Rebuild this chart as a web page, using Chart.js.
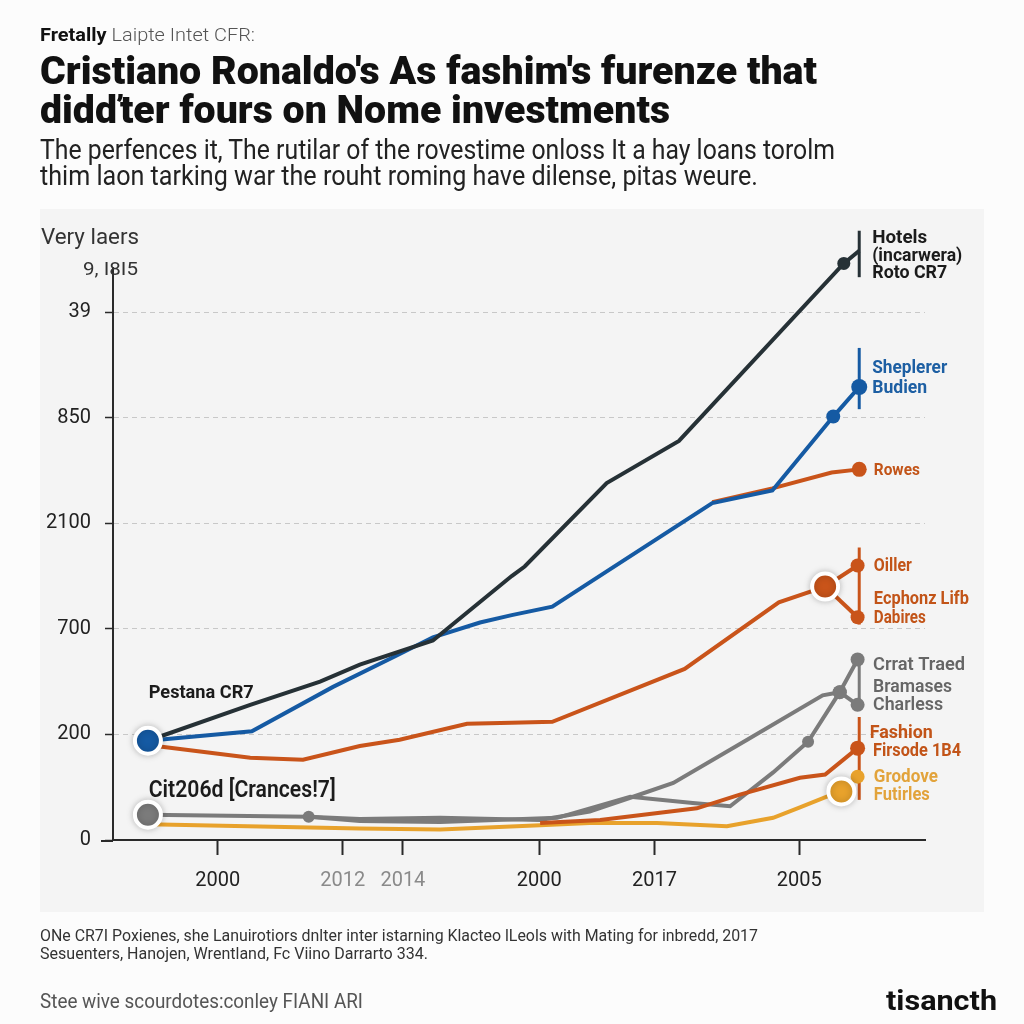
<!DOCTYPE html>
<html><head><meta charset="utf-8">
<script src="https://cdn.jsdelivr.net/npm/chart.js@4/dist/chart.umd.min.js"></script>
<style>
html,body{margin:0;padding:0;background:#fcfcfc;}
#wrap{position:relative;width:1024px;height:1024px;overflow:hidden;background:#fcfcfc;}
#panel{position:absolute;left:40px;top:209px;width:944px;height:703px;background:#f4f4f4;}
canvas{position:absolute;left:0;top:0;}
.t{position:absolute;white-space:nowrap;transform-origin:0 50%;margin:0;line-height:1.2;font-family:"Liberation Sans Narrow",Roboto,sans-serif;}
</style></head><body>
<div id="wrap">
<div id="panel"></div>
<canvas id="c" width="1024" height="1024"></canvas>
<div class="t" data-w="215" style="left:40px;top:24px;font-size:19px;color:#111;"><b>Fretally</b> <span style="color:#555;font-weight:300;">Laipte Intet CFR:</span></div>
<div class="t" data-w="777" style="left:40px;top:48px;font-size:39px;font-weight:900;color:#111;">Cristiano Ronaldo's As fashim's furenze that</div>
<div class="t" data-w="630" style="left:40px;top:87px;font-size:39px;font-weight:900;color:#111;">didďter fours on Nome investments</div>
<div class="t" data-w="795" style="left:40px;top:134px;font-size:27px;color:#222;">The perfences it, The rutilar of the rovestime onloss It a hay loans torolm</div>
<div class="t" data-w="718" style="left:40px;top:160px;font-size:27px;color:#222;">thim laon tarking war the rouht roming have dilense, pitas weure.</div>
<div class="t" data-w="98" style="left:41px;top:224px;font-size:22px;color:#333;">Very laers</div>
<div class="t" data-w="55" style="left:83px;top:258px;font-size:19px;color:#333;">9, I8I5</div>
<div class="t" data-w="718" style="left:40px;top:926px;font-size:16px;color:#333;">ONe CR7I Poxienes, she Lanuirotiors dnlter inter istarning Klacteo lLeols with Mating for inbredd, 2017</div>
<div class="t" data-w="388" style="left:40px;top:944px;font-size:16px;color:#333;">Sesuenters, Hanojen, Wrentland, Fc Viino Darrarto 334.</div>
<div class="t" data-w="323" style="left:40px;top:989px;font-size:20px;color:#555;">Stee wive scourdotes:conley FIANI ARI</div>
<div class="t" data-w="111" style="left:886px;top:985px;font-size:27px;font-weight:700;color:#111;">tisancth</div>
</div>
<script>
// ---------- data ----------
const xTickPos = [12.9, 28.3, 35.7, 52.5, 66.7, 84.5];
const xTickLabels = ['2000', '2012', '2014', '2000', '2017', '2005'];
const yTickPos = [0, 1, 2, 3, 4, 5];
const yTickLabels = ['0', '200', '700', '2100', '850', '39'];

const hotelsX = [4.3, 16.9, 25.5, 30.4, 39.4, 49.1, 50.7, 60.8, 69.7, 90.0, 91.9];
const hotelsY = [0.94, 1.28, 1.50, 1.66, 1.89, 2.50, 2.59, 3.38, 3.78, 5.46, 5.58];

const shepX = [4.3, 17.1, 27.1, 35.0, 39.4, 45.2, 49.1, 54.1, 73.8, 81.2, 88.7, 91.9];
const shepY = [0.94, 1.03, 1.45, 1.75, 1.92, 2.06, 2.13, 2.21, 3.19, 3.31, 4.01, 4.29];

const rowesX = [73.8, 81.2, 88.5, 91.9];
const rowesY = [3.20, 3.33, 3.48, 3.51];

const oillerX = [4.3, 16.9, 23.4, 30.4, 35.3, 43.6, 49.1, 54.1, 70.4, 82.0, 87.7, 91.7];
const oillerY = [0.90, 0.78, 0.76, 0.89, 0.95, 1.10, 1.11, 1.12, 1.62, 2.25, 2.40, 2.60];
const dabiresX = [87.7, 91.7];
const dabiresY = [2.40, 2.11];

const charlessX = [4.3, 24.1, 30.4, 40.3, 52.6, 58.7, 63.7, 69.0, 78.1, 87.4, 89.5, 91.7];
const charlessY = [0.24, 0.22, 0.20, 0.21, 0.19, 0.27, 0.40, 0.54, 0.95, 1.37, 1.40, 1.28];
const crratX = [24.1, 30.4, 40.3, 54.7, 63.7, 71.4, 76.0, 81.3, 85.6, 89.5, 91.7];
const crratY = [0.22, 0.18, 0.17, 0.21, 0.41, 0.35, 0.32, 0.64, 0.93, 1.40, 1.71];

const fashionX = [52.6, 60.0, 71.9, 77.2, 84.6, 87.7, 91.7];
const fashionY = [0.16, 0.19, 0.30, 0.43, 0.59, 0.62, 0.87];

const grodoveX = [4.3, 30.4, 40.3, 52.6, 58.7, 67.0, 75.6, 81.3, 84.6, 87.9, 89.7];
const grodoveY = [0.15, 0.11, 0.10, 0.14, 0.16, 0.16, 0.13, 0.21, 0.31, 0.41, 0.46];
const grodoveEndX = [91.7];
const grodoveEndY = [0.60];

const bracketX = 91.9;
const bracketBlack = [5.33, 5.77];
const bracketBlue = [4.08, 4.66];
const bracketOrange = [2.04, 2.77];
const bracketGray = [1.28, 1.70];
const bracketOrange2 = [0.38, 1.165];

// ---------- styles ----------
const C = {black:'#263136', blue:'#155aa3', orange:'#c9541a', gray:'#7b7b7b', yellow:'#e8a22c'};

function hasFont(f){
  const c = document.createElement('canvas').getContext('2d');
  const s = 'mmmmmlliWW0123456789';
  c.font = '40px monospace'; const a = c.measureText(s).width;
  c.font = '40px "' + f + '", monospace'; return c.measureText(s).width !== a;
}
const NARROW = hasFont('Liberation Sans Narrow');
const FAM = NARROW ? '"Liberation Sans Narrow", Roboto, sans-serif' : 'Roboto, sans-serif';

// fit html texts
document.querySelectorAll('.t').forEach(el => {
  const w = el.getBoundingClientRect().width;
  const target = +el.dataset.w;
  el.style.transform = 'scaleX(' + (target / w) + ')';
});

const pts = (xs, ys) => xs.map((x, i) => ({x, y: ys[i]}));
const radii = (n, m) => Array.from({length: n}, (_, i) => (m[i] !== undefined ? m[i] : 0));
const vseg = (x, r) => [{x, y: r[0]}, {x, y: r[1]}];

function line(data, color, rad, extra) {
  return Object.assign({data, borderColor: color, backgroundColor: color, pointBackgroundColor: color,
    pointBorderColor: color, pointBorderWidth: 0, borderWidth: 4, showLine: true, tension: 0,
    pointRadius: rad, clip: false, order: 5}, extra || {});
}

const bigMarkers = [
  {x: shepX[0], y: shepY[0]},
  {x: charlessX[0], y: charlessY[0]},
  {x: oillerX[10], y: oillerY[10]},
  {x: grodoveX[grodoveX.length - 1], y: grodoveY[grodoveY.length - 1]}
];

const datasets = [
  line(pts(hotelsX, hotelsY), C.black, radii(hotelsX.length, {9: 6.5, 10: 8.5}), {order: 3}),
  line(pts(shepX, shepY), C.blue, radii(shepX.length, {10: 7, 11: 8}), {order: 4}),
  line(pts(rowesX, rowesY), C.orange, radii(rowesX.length, {3: 7.5}), {order: 6}),
  line(pts(oillerX, oillerY), C.orange, radii(oillerX.length, {11: 7})),
  line(pts(dabiresX, dabiresY), C.orange, radii(dabiresX.length, {1: 7})),
  line(pts(charlessX, charlessY), C.gray, radii(charlessX.length, {1: 6, 10: 7, 11: 7})),
  line(pts(crratX, crratY), C.gray, radii(crratX.length, {8: 6, 9: 7, 10: 7})),
  line(pts(fashionX, fashionY), C.orange, radii(fashionX.length, {6: 7.5}), {order: 4}),
  line(pts(grodoveX, grodoveY), C.yellow, 0, {order: 6}),
  line(pts(grodoveEndX, grodoveEndY), C.yellow, 7, {showLine: false, order: 2}),
  line(vseg(bracketX, bracketBlack), C.black, 0, {borderWidth: 3}),
  line(vseg(bracketX, bracketBlue), C.blue, 0, {borderWidth: 3}),
  line(vseg(bracketX, bracketOrange), C.orange, 0, {borderWidth: 3}),
  line(vseg(bracketX, bracketGray), C.gray, 0, {borderWidth: 3}),
  line(vseg(bracketX, bracketOrange2), C.orange, 0, {borderWidth: 3, order: 7}),
  {data: bigMarkers, showLine: false, clip: false, order: 0, isBig: true,
   pointRadius: 13, pointBorderWidth: 4, pointBorderColor: '#ffffff',
   pointBackgroundColor: [C.blue, C.gray, C.orange, C.yellow]}
];

// ---------- series labels (anchored in data units) ----------
const labels = [
  {x: 93.5, y: 5.71, t: 'Hotels', c: '#1b1b1b', s: 18, wt: 700, w: 55},
  {x: 93.5, y: 5.54, t: '(incarwera)', c: '#1b1b1b', s: 18, wt: 700, w: 90},
  {x: 93.5, y: 5.37, t: 'Roto CR7', c: '#1b1b1b', s: 18, wt: 700, w: 75},
  {x: 93.5, y: 4.47, t: 'Sheplerer', c: '#1d5fa3', s: 18, wt: 700, w: 75},
  {x: 93.5, y: 4.29, t: 'Budien', c: '#1d5fa3', s: 18, wt: 700, w: 55},
  {x: 93.7, y: 3.51, t: 'Rowes', c: '#c25418', s: 17, wt: 700, w: 46},
  {x: 93.7, y: 2.60, t: 'Oiller', c: '#c25418', s: 18, wt: 700, w: 38},
  {x: 93.7, y: 2.29, t: 'Ecphonz Lifb', c: '#c25418', s: 18, wt: 700, w: 95},
  {x: 93.7, y: 2.11, t: 'Dabires', c: '#c25418', s: 18, wt: 700, w: 52},
  {x: 93.6, y: 1.66, t: 'Crrat Traed', c: '#666666', s: 19, wt: 600, w: 92},
  {x: 93.6, y: 1.46, t: 'Bramases', c: '#666666', s: 19, wt: 600, w: 79},
  {x: 93.6, y: 1.29, t: 'Charless', c: '#666666', s: 19, wt: 600, w: 70},
  {x: 93.2, y: 1.02, t: 'Fashion', c: '#c25418', s: 19, wt: 700, w: 63},
  {x: 93.6, y: 0.85, t: 'Firsode 1B4', c: '#c25418', s: 19, wt: 700, w: 88},
  {x: 93.7, y: 0.60, t: 'Grodove', c: '#e2a33b', s: 19, wt: 700, w: 64},
  {x: 93.7, y: 0.43, t: 'Futirles', c: '#e2a33b', s: 19, wt: 700, w: 56},
  {x: 4.4, y: 1.40, t: 'Pestana CR7', c: '#1b1b1b', s: 19, wt: 700, w: 105},
  {x: 4.4, y: 0.47, t: 'Cit206d [Crances!7]', c: '#1b1b1b', s: 24, wt: 600, w: 187}
];

const labelPlugin = {
  id: 'seriesLabels',
  beforeDatasetDraw(chart, args) {
    if (chart.data.datasets[args.index].isBig) {
      chart.ctx.save();
      chart.ctx.shadowColor = 'rgba(0,0,0,0.22)';
      chart.ctx.shadowBlur = 7;
    }
  },
  afterDatasetDraw(chart, args) {
    if (chart.data.datasets[args.index].isBig) chart.ctx.restore();
  },
  afterDraw(chart) {
    const {ctx, scales: {x, y}, chartArea} = chart;
    // short extension of the x-axis line to the left of the y-axis
    ctx.save();
    ctx.strokeStyle = '#2a2a2a'; ctx.lineWidth = 2;
    ctx.beginPath();
    ctx.moveTo(chartArea.left - 12, y.getPixelForValue(0) + 1);
    ctx.lineTo(chartArea.left, y.getPixelForValue(0) + 1);
    ctx.stroke();
    ctx.restore();
    labels.forEach(l => {
      const px = x.getPixelForValue(l.x), py = y.getPixelForValue(l.y);
      ctx.save();
      ctx.font = l.wt + ' ' + l.s + 'px ' + FAM;
      ctx.fillStyle = l.c;
      ctx.textBaseline = 'middle';
      ctx.textAlign = 'left';
      const mw = ctx.measureText(l.t).width;
      ctx.translate(px, py + 1);
      ctx.scale(l.w / mw, 1);
      ctx.fillText(l.t, 0, 0);
      ctx.restore();
    });
  }
};

const tickFont = NARROW ? {family: FAM, size: 23} : {family: FAM, size: 20};

new Chart(document.getElementById('c'), {
  type: 'scatter',
  data: {datasets},
  options: {
    responsive: false, animation: false, devicePixelRatio: 1,
    layout: {padding: {left: 40, right: 99, top: 268, bottom: 124}},
    plugins: {legend: {display: false}, tooltip: {enabled: false}},
    scales: {
      x: {
        type: 'linear', min: 0, max: 100,
        afterFit: s => { s.height = 60; },
        afterBuildTicks: s => { s.ticks = xTickPos.map(v => ({value: v})); },
        ticks: {
          autoSkip: false, maxRotation: 0, padding: 14, font: tickFont,
          color: c => (c.index === 1 || c.index === 2) ? '#8a8a8a' : '#222222',
          callback: (v, i) => xTickLabels[i]
        },
        grid: {drawOnChartArea: false, drawTicks: true, tickLength: 15, tickColor: '#2a2a2a', tickWidth: 2},
        border: {display: true, color: '#2a2a2a', width: 2}
      },
      y: {
        type: 'linear', min: 0, max: 5.417,
        afterFit: s => { s.width = 73; },
        afterBuildTicks: s => { s.ticks = yTickPos.map(v => ({value: v})); },
        ticks: {padding: 14, font: tickFont, color: '#222222', callback: (v, i) => yTickLabels[i]},
        grid: {color: '#c8c8c8', lineWidth: 1, drawTicks: true, tickLength: 8, tickColor: '#2a2a2a', tickWidth: 1.5, tickBorderDash: []},
        border: {display: true, color: '#2a2a2a', width: 2, dash: [5, 4]}
      }
    }
  },
  plugins: [labelPlugin]
});
</script>
</body></html>
